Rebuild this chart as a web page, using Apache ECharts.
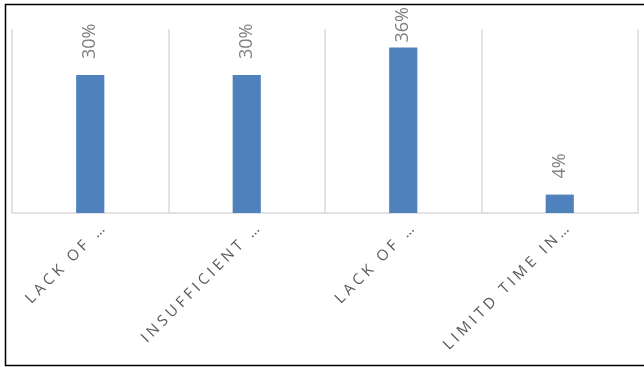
<!DOCTYPE html>
<html>
<head>
<meta charset="utf-8">
<script src="https://cdn.jsdelivr.net/npm/echarts@6/dist/echarts.min.js"></script>
<style>
  html, body { margin: 0; padding: 0; background: #fff; }
  #chart { width: 644px; height: 367px; }
</style>
</head>
<body>
<div id="chart"></div>
<script>
// Survey shares per barrier (percent)
const categories = ['LACK OF …', 'INSUFFICIENT …', 'LACK OF …', 'LIMITD TIME IN…'];
const values = [30, 30, 36, 4];

const axisMax = 40;
const labelFont = 'Open Sans';
const valueFontSize = 18;
const valueGap = 16;       // preferred gap between bar top and its label
const labelTopLimit = 7;   // labels are kept inside the chart frame

// widen the category text like a letter-spaced caption
const spaced = s => Array.from(s).join('\u2005');

const chart = echarts.init(document.getElementById('chart'), null, { renderer: 'canvas' });

function buildOption(distances) {
  return {
    backgroundColor: '#ffffff',
    animation: false,
    graphic: [{
      type: 'rect',
      silent: true,
      shape: { x: 5.5, y: 4.5, width: 650, height: 361 },
      style: { fill: 'none', stroke: '#000000', lineWidth: 1.5 }
    }],
    grid: [
      { left: 12, right: 6, top: 29, bottom: 154 },
      // label track: same width, nudged right so each caption ends past its tick
      { left: 25, right: -7, top: 29, bottom: 154 }
    ],
    xAxis: [{
      type: 'category',
      gridIndex: 0,
      data: categories,
      boundaryGap: true,
      axisLine: { show: true, lineStyle: { color: '#d9d9d9', width: 1.5 } },
      axisTick: { show: false },
      axisLabel: { show: false },
      splitLine: { show: true, lineStyle: { color: '#d9d9d9', width: 1.5 } }
    }, {
      type: 'category',
      gridIndex: 1,
      data: categories,
      axisLine: { show: false },
      axisTick: { show: false },
      splitLine: { show: false },
      axisLabel: {
        show: true,
        interval: 0,
        rotate: 45,
        margin: 14,
        color: '#595959',
        fontFamily: labelFont,
        fontSize: 15,
        formatter: v => spaced(v)
      }
    }],
    yAxis: [{
      type: 'value',
      gridIndex: 0,
      min: 0,
      max: axisMax,
      show: false,
      splitLine: { show: false }
    }, {
      type: 'value',
      gridIndex: 1,
      min: 0,
      max: axisMax,
      show: false
    }],
    series: [{
      type: 'bar',
      xAxisIndex: 0,
      yAxisIndex: 0,
      barWidth: '18%',
      itemStyle: { color: '#4f81bd' },
      data: values.map((v, i) => ({
        value: v,
        label: { distance: distances[i] }
      })),
      label: {
        show: true,
        position: 'top',
        rotate: 90,
        align: 'left',
        verticalAlign: 'middle',
        color: '#7f7f7f',
        fontFamily: labelFont,
        fontSize: valueFontSize,
        formatter: p => p.value + '%'
      }
    }]
  };
}

chart.setOption(buildOption(values.map(() => valueGap)));

// Pull labels down where they would run past the top of the frame
const ctx = document.createElement('canvas').getContext('2d');
ctx.font = valueFontSize + 'px "' + labelFont + '"';
const distances = values.map((v, i) => {
  const top = chart.convertToPixel({ seriesIndex: 0 }, [i, v])[1];
  const len = ctx.measureText(v + '%').width;
  const room = top - labelTopLimit - len;
  return Math.min(valueGap, Math.max(2, room));
});
chart.setOption(buildOption(distances));
</script>
</body>
</html>
